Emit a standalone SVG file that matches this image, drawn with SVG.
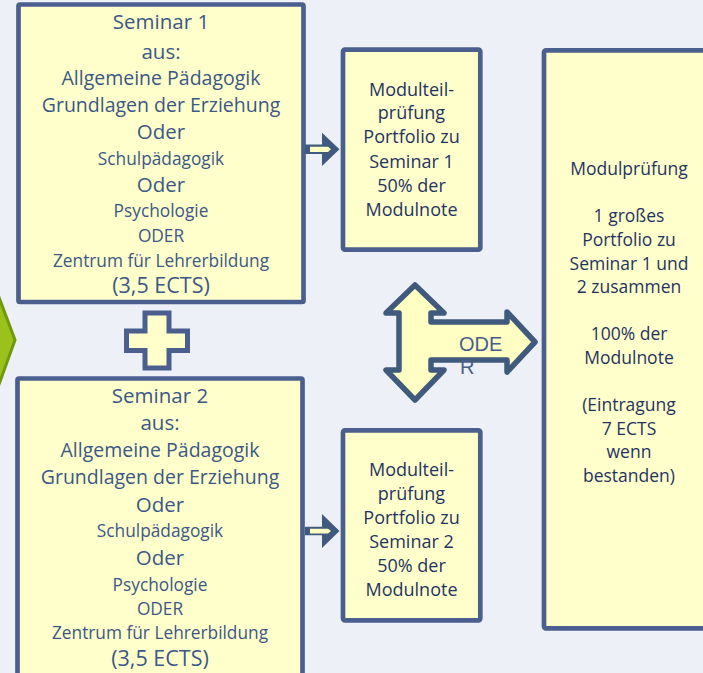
<svg xmlns="http://www.w3.org/2000/svg" width="703" height="673" viewBox="0 0 703 673">
  <style>
    .box { fill: #ffffcc; stroke: #4b5f8e; stroke-width: 4.7; }
    .arrow { fill: #ffffc4; stroke: #3f5a7c; stroke-width: 5.5; stroke-linejoin: round; }
    .dark { fill: #3f5a7c; }
    .inner { fill: #ffffc4; }
    text { font-family: "Open Sans", "Noto Sans", sans-serif; text-anchor: middle; }
    .lt { fill: #3b5886; }
    .dk { fill: #1f3461; }
    .big { font-size: 19.5px; }
    .hd { font-size: 20.5px; }
    .ects { font-size: 21.5px; }
    .oder { font-size: 20.5px; }
    .sm { font-size: 17.3px; }
    .mid { font-size: 18px; }
    .rt { font-size: 17.5px; }
    .ode { font-family: "Liberation Sans", Arial, sans-serif; font-size: 20px; fill: #4a5d8a; text-anchor: start; }
  </style>
  <rect x="0" y="0" width="703" height="673" fill="#edf1f7"/>

  <g id="chevron">
    <polygon points="-12,268 15,340 -12,415" fill="#9bc21c" stroke="#6f9a0a" stroke-width="3" stroke-linejoin="miter"/>
  </g>

  <g id="seminar1">
    <rect class="box" x="18.5" y="4.5" width="285" height="297.5" rx="1.5"/>
    <text class="lt hd" x="161" y="29">Seminar 1</text>
    <text class="lt hd" x="161" y="58.5">aus:</text>
    <text class="lt big" x="161" y="85">Allgemeine Pädagogik</text>
    <text class="lt big" x="161" y="112">Grundlagen der Erziehung</text>
    <text class="lt oder" x="161" y="139">Oder</text>
    <text class="lt sm" x="161" y="165">Schulpädagogik</text>
    <text class="lt oder" x="161" y="192">Oder</text>
    <text class="lt sm" x="161" y="217">Psychologie</text>
    <text class="lt sm" x="161" y="242">ODER</text>
    <text class="lt sm" x="161" y="267">Zentrum für Lehrerbildung</text>
    <text class="lt ects" x="161" y="293">(3,5 ECTS)</text>
  </g>

  <g id="plus">
    <path d="M145,313 H169 V331 H187.5 V350.5 H169 V368 H145 V350.5 H126.5 V331 H145 Z" fill="#ffffcc" stroke="#4b5f8e" stroke-width="5"/>
  </g>

  <g id="seminar2">
    <rect class="box" x="17.5" y="378.5" width="285" height="310" rx="1.5"/>
    <text class="lt hd" x="160" y="403">Seminar 2</text>
    <text class="lt hd" x="160" y="430">aus:</text>
    <text class="lt big" x="160" y="457">Allgemeine Pädagogik</text>
    <text class="lt big" x="160" y="484">Grundlagen der Erziehung</text>
    <text class="lt oder" x="160" y="512">Oder</text>
    <text class="lt sm" x="160" y="537">Schulpädagogik</text>
    <text class="lt oder" x="160" y="565">Oder</text>
    <text class="lt sm" x="160" y="591">Psychologie</text>
    <text class="lt sm" x="160" y="615">ODER</text>
    <text class="lt sm" x="160" y="639">Zentrum für Lehrerbildung</text>
    <text class="lt ects" x="160" y="666">(3,5 ECTS)</text>
  </g>

  <g id="teil1">
    <rect class="box" x="343" y="49.7" width="137.3" height="200" rx="2"/>
    <text class="dk mid" x="411.5" y="96">Modulteil-</text>
    <text class="dk mid" x="411.5" y="119">prüfung</text>
    <text class="dk mid" x="411.5" y="143">Portfolio zu</text>
    <text class="dk mid" x="411.5" y="168">Seminar 1</text>
    <text class="dk mid" x="411.5" y="192">50% der</text>
    <text class="dk mid" x="411.5" y="216">Modulnote</text>
  </g>

  <g id="teil2">
    <rect class="box" x="343" y="430.3" width="137.3" height="190" rx="2"/>
    <text class="dk mid" x="411.5" y="476">Modulteil-</text>
    <text class="dk mid" x="411.5" y="500">prüfung</text>
    <text class="dk mid" x="411.5" y="524">Portfolio zu</text>
    <text class="dk mid" x="411.5" y="548">Seminar 2</text>
    <text class="dk mid" x="411.5" y="572">50% der</text>
    <text class="dk mid" x="411.5" y="596">Modulnote</text>
  </g>

  <g id="modulpruefung">
    <rect class="box" x="544" y="50.3" width="200" height="578" rx="2"/>
    <text class="dk rt" x="629" y="175">Modulprüfung</text>
    <text class="dk rt" x="629" y="222">1 großes</text>
    <text class="dk rt" x="629" y="246">Portfolio zu</text>
    <text class="dk rt" x="629" y="269.5">Seminar 1 und</text>
    <text class="dk rt" x="629" y="293">2 zusammen</text>
    <text class="dk rt" x="629" y="340">100% der</text>
    <text class="dk rt" x="629" y="364">Modulnote</text>
    <text class="dk rt" x="629" y="411">(Eintragung</text>
    <text class="dk rt" x="629" y="434.5">7 ECTS</text>
    <text class="dk rt" x="629" y="458">wenn</text>
    <text class="dk rt" x="629" y="482">bestanden)</text>
  </g>

  <g id="connectors">
    <path class="dark" d="M305,144.6 H322 V132.8 L339.5,149.3 L322,166 V154 H305 Z"/>
    <path class="inner" d="M310,146.8 H328 L331,149.3 L328,151.9 H310 Z"/>
    <path class="dark" d="M305,526.7 H322 V514 L339.5,531 L322,548 V535.3 H305 Z"/>
    <path class="inner" d="M310,528.8 H328 L331,531 L328,533.4 H310 Z"/>
    <path class="arrow" d="M415,285 L444,313 H431 V322 H507 V312 L535,342 L507,372 V360 H431 V370 H444 L415,400 L386,370 H399 V313 H386 Z"/>
    <text class="ode" x="459" y="351">ODE</text>
    <text class="ode" x="460" y="374">R</text>
  </g>
</svg>
